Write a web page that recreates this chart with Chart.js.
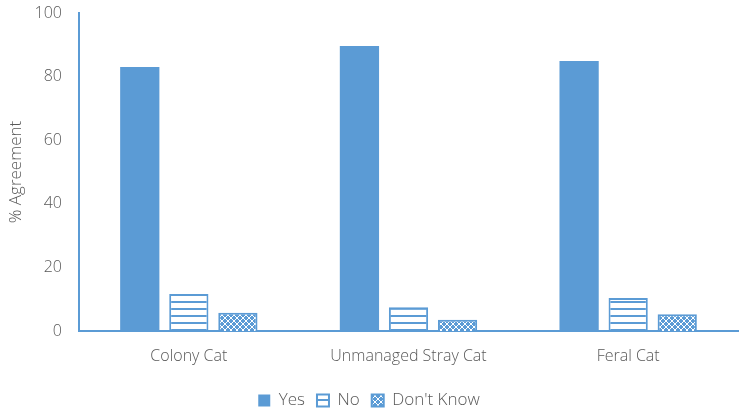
<!DOCTYPE html>
<html>
<head>
<meta charset="utf-8">
<script src="https://cdn.jsdelivr.net/npm/chart.js@4/dist/chart.umd.min.js"></script>
<style>
  html, body { margin: 0; padding: 0; background: #fff; }
  #wrap { width: 748px; height: 413px; }
</style>
</head>
<body>
<div id="wrap"><canvas id="chart"></canvas></div>
<script>
'use strict';

const categories = ['Colony Cat', 'Unmanaged Stray Cat', 'Feral Cat'];
const yesValues = [83.0, 89.6, 84.9];
const noValues = [11.6, 7.5, 10.4];
const dontKnowValues = [5.7, 3.5, 5.3];
const yTicks = [0, 20, 40, 60, 80, 100];

const BLUE = '#5b9bd5';
const TEXT = '#595959';

/* horizontal stripes on white */
function stripePattern() {
  const c = document.createElement('canvas');
  c.width = 8; c.height = 7;
  const g = c.getContext('2d');
  g.fillStyle = '#fff';
  g.fillRect(0, 0, 8, 7);
  g.fillStyle = BLUE;
  g.fillRect(0, 0, 8, 2);
  return g.createPattern(c, 'repeat');
}

/* small white lattice on blue */
function latticePattern() {
  const c = document.createElement('canvas');
  c.width = 6; c.height = 6;
  const g = c.getContext('2d');
  g.fillStyle = BLUE;
  g.fillRect(0, 0, 6, 6);
  g.strokeStyle = '#fff';
  g.lineWidth = 1;
  g.beginPath();
  g.moveTo(0, 3); g.lineTo(3, 0); g.lineTo(6, 3); g.lineTo(3, 6); g.closePath();
  g.stroke();
  return g.createPattern(c, 'repeat');
}

const ctx = document.getElementById('chart');

new Chart(ctx, {
  type: 'bar',
  data: {
    labels: categories,
    datasets: [
      { label: 'Yes', data: yesValues, backgroundColor: BLUE, borderColor: BLUE, borderWidth: 0 },
      { label: 'No', data: noValues, backgroundColor: stripePattern(), borderColor: BLUE, borderWidth: 2 },
      { label: "Don't Know", data: dontKnowValues, backgroundColor: latticePattern(), borderColor: BLUE, borderWidth: 2 }
    ]
  },
  options: {
    responsive: true,
    maintainAspectRatio: false,
    animation: false,
    layout: { padding: { top: 13, right: 10, left: 0, bottom: -6 } },
    datasets: {
      bar: { categoryPercentage: 0.67, barPercentage: 0.8 }
    },
    scales: {
      x: {
        afterFit: (axis) => { axis.height = 49; },
        grid: { display: false, drawTicks: false },
        border: { color: BLUE, width: 2 },
        ticks: { color: TEXT, font: { family: 'Open Sans', size: 16, weight: 300 }, padding: 16 }
      },
      y: {
        min: 0,
        max: 100,
        afterBuildTicks: (axis) => { axis.ticks = yTicks.map(v => ({ value: v })); },
        /* fixed axis box so the plot area lines up with the original */
        afterFit: (axis) => {
          axis.width = 79;
          axis.paddingTop = 0;
          axis.paddingBottom = 0;
        },
        grid: { display: false, drawTicks: false },
        border: { color: BLUE, width: 2 },
        ticks: { color: TEXT, font: { family: 'Open Sans', size: 16, weight: 300 }, padding: 17 },
        title: {
          display: true,
          text: '% Agreement',
          color: TEXT,
          font: { family: 'Open Sans', size: 17, weight: 300 },
          padding: { top: 6, bottom: 0 }
        }
      }
    },
    plugins: {
      legend: {
        position: 'bottom',
        labels: {
          color: TEXT,
          font: { family: 'Open Sans', size: 17, weight: 300 },
          boxWidth: 12,
          boxHeight: 12,
          padding: 12
        }
      },
      tooltip: { enabled: false }
    }
  }
});
</script>
</body>
</html>
